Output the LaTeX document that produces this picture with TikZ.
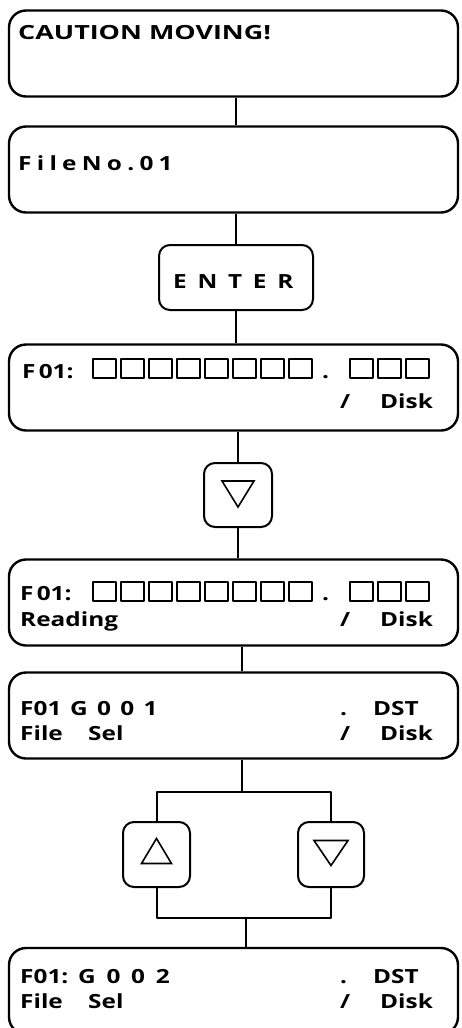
\documentclass[tikz,border=0pt]{standalone}
\usepackage{fontspec}
\setmainfont{Open Sans}[FakeStretch=1.25]
\newfontfamily\widefont{Open Sans}[FakeStretch=1.38]
\usetikzlibrary{positioning}
\tikzset{lcd/.style={draw,line width=2.4pt,rounded corners=17pt,minimum width=449pt,minimum height=86pt,inner sep=0pt},
  key/.style={draw,line width=2pt,rounded corners=11pt,inner sep=0pt},
  txt/.style={anchor=base west,inner sep=0pt,font=\bfseries\fontsize{19.5}{22}\selectfont},
  cell/.style={line width=1.2pt},
  wire/.style={line width=2pt},
  tri/.style={line width=1.6pt,line join=miter}}

\begin{document}
\begin{tikzpicture}[x=1pt,y=-1pt,line join=round]
\useasboundingbox (0,0) rectangle (461,1028);
% --- display screens
\node[lcd] (b1) at (233.5,53.5) {};
\node[lcd] (b2) at (233.5,169.5) {};
\node[lcd] (b3) at (233.5,387.5) {};
\node[lcd] (b4) at (233.5,602.5) {};
\node[lcd] (b5) at (233.5,715.5) {};
\node[lcd] (b6) at (233.5,991) {};
% --- keys
\node[key,minimum width=154pt,minimum height=65pt] (enter) at (236,277.5) {};
\node[key,minimum width=68pt,minimum height=64pt] (dnA) at (238,495) {};
\node[key,minimum width=67pt,minimum height=65pt] (up) at (156.5,854.5) {};
\node[key,minimum width=66pt,minimum height=65pt] (dn) at (331,854.5) {};
\draw[tri,shift={(dnA)}] (-16,-14) -- (16,-14) -- (0,12) -- cycle;
\draw[tri,shift={(up)}] (-15,9) -- (15,9) -- (0,-16) -- cycle;
\draw[tri,shift={(dn)}] (-17,-14) -- (17,-14) -- (0,11) -- cycle;
\node[txt] (entt) at (173,288) {\addfontfeature{LetterSpace=55}ENTER};
% --- texts
\node[txt] (caut) at (18,39) {\widefont\bfseries CAUTION MOVING!};
\node[txt] (fno) at (18,170) {\addfontfeature{LetterSpace=27}FileNo.01};
\node[txt] (fa) at (22,378) {F\,01:};
\node[txt] (dota) at (322,378) {.};
\node[txt] (sla) at (340,408) {/}; \node[txt] (diska) at (380,408) {Disk};
\node[txt] (fb) at (20,600) {F\,01:};
\node[txt] (dotb) at (322,600) {.};
\node[txt] (rd) at (20,626) {Reading};
\node[txt] (slb) at (340,626) {/}; \node[txt] (diskb) at (380,626) {Disk};
\node[txt] (fc) at (20,715) {F01}; \node[txt] (gc) at (70,715) {\addfontfeature{LetterSpace=48}G001};
\node[txt] (dotc) at (340,715) {.}; \node[txt] (dstc) at (373,715) {DST};
\node[txt] (filec) at (20,740) {File}; \node[txt] (selc) at (88,740) {Sel};
\node[txt] (slc) at (340,740) {/}; \node[txt] (diskc) at (380,740) {Disk};
\node[txt] (fd) at (20,983) {F01:}; \node[txt] (gd) at (78,983) {\addfontfeature{LetterSpace=55}G002};
\node[txt] (dotd) at (340,983) {.}; \node[txt] (dstd) at (373,983) {DST};
\node[txt] (filed) at (20,1008) {File}; \node[txt] (seld) at (88,1008) {Sel};
\node[txt] (sld) at (340,1008) {/}; \node[txt] (diskd) at (380,1008) {Disk};
% character cells
\foreach \y in {359,582} {
  \foreach \i in {0,...,7} \draw[cell] (93+28*\i,\y) rectangle ++(23,19);
  \foreach \i in {0,1,2} \draw[cell] (350+28*\i,\y) rectangle ++(23,19);
}
% --- connectors
\coordinate (split) at (242,792); \coordinate (join) at (246,918);
\draw[wire] (b1.south -| enter) -- (b2.north -| enter);
\draw[wire] (b2.south -| enter) -- (enter.north);
\draw[wire] (enter.south) -- (b3.north -| enter);
\draw[wire] (b3.south -| dnA) -- (dnA.north);
\draw[wire] (dnA.south) -- (b4.north -| dnA);
\draw[wire] (b4.south -| split) -- (b5.north -| split);
\draw[wire] (b5.south -| split) -- (split);
\draw[wire] (up.north) |- (split) -| (dn.north);
\draw[wire] (up.south) |- (join) -| (dn.south);
\draw[wire] (join) -- (b6.north -| join);
\end{tikzpicture}
\end{document}
